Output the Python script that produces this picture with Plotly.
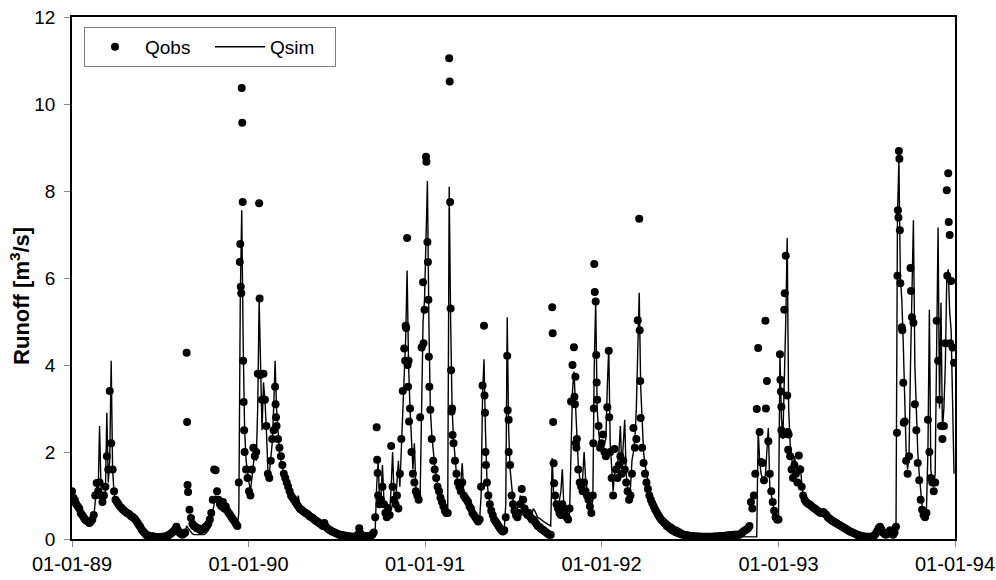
import datetime as dt
import plotly.graph_objects as go

START = dt.date(1989, 1, 1)
STEP_DAYS = 3

# Observed runoff Qobs [m3/s], every 3 days from 1989-01-01
q_obs = [
    1.1, 0.95, 0.85, 0.8, 0.75, 0.7, 0.6, 0.55, 0.5, 0.45,
    0.42, 0.4, 0.37, 0.4, 0.45, 0.55, 1.0, 1.29, 1.1, 1.3,
    1.0, 0.85, 1.0, 1.2, 1.9, 1.6, 3.4, 2.2, 1.6, 1.1,
    0.9, 0.85, 0.8, 0.75, 0.72, 0.68, 0.65, 0.62, 0.6, 0.58,
    0.55, 0.52, 0.5, 0.47, 0.43, 0.38, 0.33, 0.28, 0.22, 0.18,
    0.14, 0.1, 0.08, 0.06, 0.05, 0.05, 0.05, 0.04, 0.04, 0.04,
    0.04, 0.04, 0.05, 0.05, 0.06, 0.06, 0.08, 0.1, 0.12, 0.15,
    0.18, 0.22, 0.28, 0.2, 0.15, 0.12, 0.1, 0.12, 0.15, 4.28,
    1.08, 0.67, 0.48, 0.35, 0.3, 0.28, 0.25, 0.25, 0.22, 0.2,
    0.22, 0.25, 0.28, 0.3, 0.35, 0.45, 0.6, 0.9, 1.6, 1.58,
    1.1, 0.9, 0.8, 0.75, 0.85, 0.7, 0.75, 0.65, 0.6, 0.55,
    0.5, 0.45, 0.4, 0.35, 0.3, 1.3, 6.78, 10.37, 4.1, 2.0,
    1.6, 1.4, 1.1, 1.0, 1.6, 2.1, 1.9, 2.0, 3.8, 7.72,
    3.8, 3.2, 3.8, 3.2, 2.6, 1.5, 1.4, 1.8, 2.3, 2.5,
    3.5, 2.6, 2.3, 2.1, 1.9, 1.7, 1.5, 1.4, 1.3, 1.2,
    1.1, 1.0, 0.95, 0.9, 0.85, 0.8, 0.75, 0.7, 0.68, 0.65,
    0.62, 0.6, 0.58, 0.55, 0.52, 0.5, 0.48, 0.45, 0.42, 0.4,
    0.38, 0.35, 0.33, 0.3, 0.37, 0.28, 0.25, 0.22, 0.2, 0.18,
    0.16, 0.15, 0.13, 0.12, 0.1, 0.1, 0.09, 0.08, 0.08, 0.07,
    0.07, 0.06, 0.06, 0.05, 0.05, 0.05, 0.06, 0.1, 0.25, 0.12,
    0.08, 0.07, 0.07, 0.06, 0.06, 0.07, 0.08, 0.1, 0.15, 0.5,
    2.57, 1.0, 0.8, 0.9, 1.2, 0.8, 0.6, 0.5, 0.7, 0.55,
    2.14, 1.2, 0.9, 0.8, 1.0, 0.7, 1.5, 2.3, 3.4, 4.38,
    4.9, 6.92, 4.1, 3.0, 2.0, 1.5, 1.3, 1.1, 1.0, 0.9,
    2.8, 4.4, 5.9, 5.27, 8.79, 6.83, 4.19, 2.97, 2.3, 1.8,
    1.6, 1.4, 1.2, 1.1, 0.95, 0.85, 0.75, 0.65, 0.6, 0.6,
    11.05, 5.3, 3.0, 2.2, 1.8, 1.5, 1.3, 1.2, 1.1, 1.3,
    1.0, 0.95, 0.9, 0.85, 0.75, 0.7, 0.6, 0.55, 0.5, 0.45,
    0.4, 0.45, 1.2, 3.53, 4.9, 2.0, 1.3, 1.0, 0.8, 0.65,
    0.55, 0.45, 0.4, 0.35, 0.3, 0.25, 0.2, 0.17, 0.2, 0.5,
    4.21, 2.74, 1.7, 1.0, 0.8, 0.65, 0.55, 0.5, 0.6, 0.8,
    1.15, 0.9, 0.7, 0.6, 0.55, 0.6, 0.5, 0.45, 0.45, 0.4,
    0.35, 0.3, 0.28, 0.25, 0.22, 0.2, 0.17, 0.15, 0.12, 0.1,
    0.1, 5.33, 1.74, 1.0, 0.8, 0.7, 0.6, 0.55, 0.8, 0.7,
    0.55, 0.5, 0.45, 0.7, 3.16, 4.0, 4.41, 3.73, 2.3, 1.6,
    1.3, 1.2, 1.1, 1.3, 1.1, 1.0, 0.9, 0.75, 0.6, 1.0,
    6.32, 5.46, 3.2, 2.6, 2.1, 2.2, 2.4, 2.0, 1.9, 3.03,
    4.33, 2.0, 1.4, 1.0, 2.07, 1.6, 1.4, 1.7, 1.9, 1.5,
    1.8, 1.6, 1.3, 1.1, 0.9, 1.0, 1.5, 2.55, 2.1, 2.3,
    5.03, 7.36, 2.78, 2.1, 1.75, 1.5, 1.3, 1.15, 1.0, 0.9,
    0.82, 0.75, 0.68, 0.62, 0.56, 0.5, 0.45, 0.42, 0.38, 0.35,
    0.3, 0.28, 0.25, 0.22, 0.2, 0.18, 0.16, 0.15, 0.13, 0.12,
    0.11, 0.1, 0.1, 0.09, 0.08, 0.08, 0.07, 0.07, 0.07, 0.06,
    0.06, 0.06, 0.06, 0.05, 0.05, 0.05, 0.05, 0.05, 0.05, 0.05,
    0.05, 0.05, 0.05, 0.06, 0.06, 0.06, 0.06, 0.07, 0.07, 0.07,
    0.07, 0.08, 0.08, 0.08, 0.09, 0.09, 0.1, 0.1, 0.1, 0.1,
    0.1, 0.12, 0.15, 0.18, 0.2, 0.22, 0.25, 0.3, 0.85, 0.7,
    1.0, 1.5, 2.99, 4.39, 2.46, 1.77, 1.75, 1.35, 5.02, 3.63,
    2.25, 1.5, 1.1, 0.85, 0.65, 0.5, 0.45, 0.45, 4.25, 2.5,
    2.4, 5.27, 6.51, 3.3, 2.4, 1.9, 1.6, 1.4, 1.7, 1.5,
    1.3, 1.92, 1.6, 1.2, 1.0, 0.9, 0.85, 0.82, 0.8, 0.78,
    0.75, 0.72, 0.7, 0.67, 0.65, 0.62, 0.6, 0.6, 0.62, 0.58,
    0.55, 0.5, 0.47, 0.45, 0.42, 0.4, 0.38, 0.36, 0.34, 0.32,
    0.3, 0.28, 0.26, 0.24, 0.22, 0.2, 0.18, 0.16, 0.15, 0.13,
    0.12, 0.1, 0.09, 0.08, 0.07, 0.06, 0.06, 0.05, 0.05, 0.05,
    0.05, 0.05, 0.06, 0.08, 0.12, 0.18, 0.25, 0.28, 0.22, 0.15,
    0.12, 0.1, 0.12, 0.15, 0.2, 0.12, 0.1, 0.15, 0.28, 6.05,
    8.92, 5.88, 4.87, 3.59, 2.7, 1.8, 1.5, 1.9, 6.23, 5.1,
    4.97, 3.1, 2.5, 1.75, 1.35, 0.9, 0.67, 0.55, 0.5, 0.6,
    2.74, 2.0, 1.4, 1.3, 1.1, 1.3, 5.02, 4.1, 3.2, 2.6,
    2.3, 2.6, 4.5, 8.02, 8.41, 6.99, 5.93, 4.4, 4.05,
]

# Simulated runoff Qsim [m3/s], same 3-day steps
q_sim = [
    1.05, 0.9, 0.8, 0.85, 0.95, 0.7, 0.65, 0.6, 0.55, 0.5,
    0.47, 0.43, 0.4, 0.42, 0.45, 0.5, 0.9, 1.2, 1.0, 2.6,
    1.2, 0.9, 0.8, 1.0, 2.9, 1.3, 1.8, 4.1, 1.6, 1.05,
    0.9, 0.85, 0.8, 0.75, 0.72, 0.68, 0.65, 0.62, 0.6, 0.58,
    0.53, 0.5, 0.48, 0.45, 0.42, 0.37, 0.32, 0.28, 0.24, 0.2,
    0.18, 0.17, 0.16, 0.15, 0.15, 0.14, 0.14, 0.13, 0.12, 0.12,
    0.1, 0.08, 0.07, 0.06, 0.05, 0.05, 0.05, 0.05, 0.06, 0.07,
    0.08, 0.1, 0.15, 0.12, 0.1, 0.08, 0.07, 0.07, 0.1, 0.3,
    0.25, 0.2, 0.15, 0.12, 0.1, 0.1, 0.1, 0.1, 0.1, 0.1,
    0.1, 0.1, 0.12, 0.15, 0.2, 0.3, 0.45, 0.6, 0.8, 1.0,
    0.9, 0.8, 0.75, 0.7, 0.93, 0.65, 0.7, 0.6, 0.55, 0.5,
    0.45, 0.4, 0.35, 0.3, 0.3, 0.6, 5.5, 7.56, 4.5, 2.5,
    1.8, 1.5, 1.3, 1.1, 1.4, 1.8, 2.0, 1.8, 3.0, 5.5,
    3.5, 2.5, 3.6, 3.2, 2.5, 1.6, 1.5, 1.9, 2.2, 3.0,
    4.1, 3.0, 2.4, 2.0, 1.8, 1.6, 1.5, 1.4, 1.3, 1.2,
    1.1, 1.0, 0.9, 0.85, 0.8, 0.8, 1.0, 0.75, 0.7, 0.65,
    0.62, 0.6, 0.57, 0.55, 0.52, 0.5, 0.47, 0.45, 0.42, 0.4,
    0.38, 0.35, 0.33, 0.3, 0.28, 0.26, 0.24, 0.22, 0.2, 0.18,
    0.16, 0.15, 0.13, 0.12, 0.11, 0.1, 0.09, 0.09, 0.08, 0.08,
    0.07, 0.07, 0.06, 0.06, 0.06, 0.05, 0.05, 0.06, 0.08, 0.07,
    0.06, 0.06, 0.06, 0.05, 0.05, 0.05, 0.05, 0.06, 0.08, 0.2,
    1.2, 1.8, 0.9, 1.0, 1.7, 0.9, 0.7, 0.6, 0.8, 0.6,
    1.2, 2.0, 1.0, 0.8, 1.3, 1.8, 1.2, 2.0, 3.0, 4.0,
    4.6, 6.17, 4.0, 3.0, 2.2, 1.6, 2.2, 1.2, 1.0, 0.9,
    1.0, 3.5, 5.0, 5.5, 7.0, 8.23, 5.0, 3.0, 2.4, 2.0,
    1.7, 1.45, 1.25, 1.1, 1.0, 0.9, 0.8, 0.7, 0.65, 0.7,
    8.1, 5.0, 3.0, 2.3, 1.8, 1.5, 1.3, 1.2, 1.3, 1.74,
    1.1, 0.95, 0.9, 0.85, 0.78, 0.7, 0.62, 0.57, 0.52, 0.48,
    0.45, 0.45, 1.0, 3.3, 4.13, 2.5, 1.4, 1.0, 0.85, 0.7,
    0.6, 0.5, 0.45, 0.4, 0.35, 0.3, 0.25, 0.22, 0.25, 0.8,
    5.1, 2.5, 1.6, 1.2, 0.9, 0.75, 0.65, 0.7, 0.8, 1.0,
    0.9, 0.8, 0.7, 0.65, 0.6, 0.6, 0.6, 0.55, 0.7, 0.65,
    0.55, 0.5, 0.48, 0.45, 0.42, 0.4, 0.38, 0.36, 0.34, 0.32,
    0.3, 1.86, 1.0, 0.9, 0.8, 0.7, 0.9, 1.1, 1.6, 0.8,
    0.6, 0.55, 0.5, 0.6, 2.0, 3.4, 3.85, 3.0, 2.3, 1.7,
    1.4, 1.3, 1.4, 2.0, 1.4, 1.1, 0.9, 0.8, 0.7, 0.9,
    4.0, 5.46, 3.0, 2.5, 2.1, 2.2, 2.0, 2.2, 2.3, 3.5,
    4.4, 2.2, 1.5, 1.1, 1.5, 1.6, 1.7, 2.0, 2.6, 1.6,
    2.2, 2.74, 1.5, 1.1, 0.9, 1.2, 1.8, 2.0, 2.3, 3.0,
    4.5, 5.66, 3.5, 2.5, 2.0, 1.7, 1.5, 1.3, 1.15, 1.0,
    0.9, 0.82, 0.75, 0.7, 0.65, 0.6, 0.55, 0.5, 0.48, 0.45,
    0.42, 0.4, 0.38, 0.35, 0.33, 0.3, 0.28, 0.27, 0.25, 0.23,
    0.2, 0.18, 0.16, 0.14, 0.12, 0.1, 0.09, 0.08, 0.08, 0.07,
    0.07, 0.07, 0.06, 0.06, 0.06, 0.06, 0.06, 0.06, 0.06, 0.06,
    0.06, 0.06, 0.06, 0.05, 0.05, 0.05, 0.05, 0.05, 0.05, 0.05,
    0.05, 0.05, 0.05, 0.05, 0.05, 0.05, 0.05, 0.05, 0.05, 0.05,
    0.05, 0.05, 0.05, 0.05, 0.05, 0.05, 0.05, 0.05, 0.05, 0.05,
    0.05, 0.05, 0.05, 2.5, 1.8, 1.5, 1.4, 1.3, 1.5, 2.0,
    2.55, 1.2, 1.0, 0.8, 0.6, 0.5, 0.45, 0.45, 4.27, 2.8,
    2.3, 3.5, 5.0, 6.92, 3.0, 2.2, 1.8, 1.6, 1.9, 1.7,
    1.5, 1.6, 1.7, 1.3, 1.0, 0.9, 0.85, 0.82, 0.8, 0.78,
    0.75, 0.72, 0.7, 0.67, 0.64, 0.62, 0.6, 0.58, 0.6, 0.58,
    0.55, 0.5, 0.47, 0.45, 0.42, 0.4, 0.38, 0.36, 0.34, 0.32,
    0.3, 0.28, 0.26, 0.24, 0.22, 0.2, 0.18, 0.16, 0.15, 0.13,
    0.12, 0.1, 0.09, 0.08, 0.07, 0.06, 0.06, 0.05, 0.05, 0.05,
    0.05, 0.05, 0.06, 0.08, 0.1, 0.15, 0.22, 0.25, 0.2, 0.14,
    0.11, 0.1, 0.1, 0.12, 0.15, 0.1, 0.08, 0.1, 0.2, 7.4,
    8.73, 6.0, 5.5, 4.5, 3.0, 2.0, 1.6, 2.0, 4.0, 6.0,
    7.33, 4.0, 2.8, 2.0, 1.5, 1.0, 0.75, 0.65, 0.6, 0.7,
    2.0, 5.27, 1.6, 1.3, 1.2, 1.5, 4.0, 7.16, 3.0, 5.43,
    2.5, 3.0, 4.0, 6.0, 6.2, 5.22, 4.8, 3.0, 1.5,
]

# Additional daily observations around flood peaks (day number since 1989-01-01, value)
obs_extra_day = [
    238, 239,
    347, 349, 350, 352, 353, 355, 356,
    388, 389, 421, 422, 631, 632,
    689, 691, 694, 695, 697,
    727, 733, 736, 737, 739,
    781, 782, 784, 785, 787,
    853, 854, 856, 901, 903,
    994, 995, 997, 1039, 1040, 1042, 1043,
    1078, 1079, 1081, 1084, 1085, 1111,
    1174, 1175, 1435,
    1465, 1466, 1467, 1474, 1480, 1481,
    1706, 1708, 1709, 1711, 1712, 1717, 1720, 1735,
    1810, 1813, 1816,
]
obs_extra_val = [
    2.69, 1.24,
    6.37, 5.8, 5.65, 9.57, 7.75, 3.15, 2.5,
    5.53, 3.77, 3.1, 2.8, 1.82, 1.52,
    4.1, 4.85, 4.0, 3.5, 2.7,
    4.5, 8.67, 6.37, 5.5, 3.5,
    10.52, 7.75, 3.88, 2.93, 2.39,
    3.3, 2.9, 1.7, 2.96, 2.0,
    4.73, 2.69, 1.28, 3.27, 3.1, 2.2, 2.1,
    2.2, 3.0, 5.68, 4.23, 3.6, 2.8,
    4.8, 3.63, 3.0,
    3.66, 3.39, 3.04, 5.65, 2.46, 2.05,
    2.44, 7.56, 7.39, 8.74, 7.1, 4.8, 2.67, 5.7,
    6.05, 7.29, 4.5,
]

YEAR_TICKS = ["1989-01-01", "1990-01-01", "1991-01-01", "1992-01-01", "1993-01-01", "1994-01-01"]
TICK_TEXT = ["01-01-89", "01-01-90", "01-01-91", "01-01-92", "01-01-93", "01-01-94"]
Y_TITLE = "<b>Runoff [m<sup>3</sup>/s]</b>"

obs_dates = [START + dt.timedelta(days=STEP_DAYS * i) for i in range(len(q_obs))]
obs_dates += [START + dt.timedelta(days=d) for d in obs_extra_day]
obs_vals = q_obs + obs_extra_val
sim_dates = [START + dt.timedelta(days=STEP_DAYS * i) for i in range(len(q_sim))]

FONT = "Arial, 'Liberation Sans', sans-serif"

fig = go.Figure()
fig.add_trace(go.Scatter(
    x=obs_dates, y=obs_vals, mode="markers", name="Qobs",
    marker=dict(color="black", size=8, line=dict(width=0)),
))
fig.add_trace(go.Scatter(
    x=sim_dates, y=q_sim, mode="lines", name="Qsim",
    line=dict(color="black", width=1.4),
))

fig.update_layout(
    width=996, height=580,
    margin=dict(l=72, r=41, t=17, b=41),
    paper_bgcolor="white", plot_bgcolor="white",
    font=dict(family=FONT, size=18, color="black"),
    showlegend=True,
    legend=dict(
        orientation="h", x=0.0136, y=0.981, xanchor="left", yanchor="top",
        bgcolor="white", bordercolor="#808080", borderwidth=1,
        font=dict(family=FONT, size=19, color="black"),
        entrywidth=60, itemwidth=50,
    ),
    xaxis=dict(
        type="date", range=["1989-01-01", "1994-01-01"],
        tickvals=YEAR_TICKS, ticktext=TICK_TEXT,
        showgrid=False, zeroline=False, automargin=False,
        showline=True, linecolor="black", linewidth=1.5, mirror=True,
        ticks="outside", ticklen=6, tickcolor="#888888", tickwidth=1,
        tickfont=dict(family=FONT, size=20, color="black"),
    ),
    yaxis=dict(
        range=[0, 12], dtick=2, tick0=0, automargin=False,
        showgrid=False, zeroline=False,
        showline=True, linecolor="black", linewidth=1.5, mirror=True,
        ticks="outside", ticklen=6, tickcolor="#888888", tickwidth=1,
        ticklabelstandoff=5,
        tickfont=dict(family=FONT, size=19, color="black"),
    ),
    annotations=[dict(
        text=Y_TITLE, textangle=-90, showarrow=False,
        xref="paper", yref="paper", x=-0.059, y=0.4655,
        xanchor="center", yanchor="middle",
        font=dict(family=FONT, size=22, color="black"),
    )],
)

fig.write_html("out.html")
